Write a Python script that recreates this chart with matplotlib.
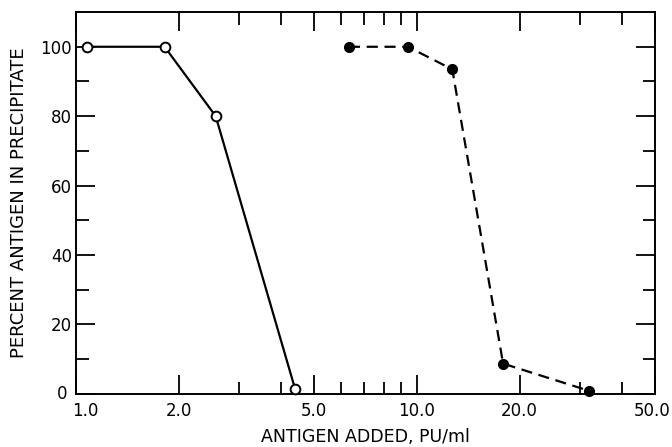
import numpy as np
import matplotlib
matplotlib.use("Agg")
import matplotlib.pyplot as plt
import matplotlib.transforms as mtransforms
from matplotlib.ticker import FixedLocator, FixedFormatter, NullFormatter

# open circles (solid line)
open_x = [1.08, 1.82, 2.57, 4.39]
open_y = [100, 100, 80, 1.5]

# filled circles (dashed line)
filled_x = [6.32, 9.41, 12.7, 17.9, 31.9]
filled_y = [100, 100, 93.5, 8.7, 0.9]

x_major = [1.0, 2.0, 5.0, 10.0, 20.0, 50.0]
x_major_labels = ["1.0", "2.0", "5.0", "10.0", "20.0", "50.0"]
x_minor = [3, 4, 6, 7, 8, 9, 30, 40]
y_major = [0, 20, 40, 60, 80, 100]
y_minor = [10, 30, 50, 70, 90]

plt.rcParams['font.family'] = ['DejaVu Sans']

fig = plt.figure(figsize=(6.72, 4.47), dpi=100)
ax = fig.add_axes([0.113, 0.119, 0.862, 0.854])

ax.plot(open_x, open_y, color='black', linewidth=1.6, marker='o', markersize=7,
        markerfacecolor='white', markeredgecolor='black', markeredgewidth=1.4,
        clip_on=False, zorder=3)
ax.plot(filled_x, filled_y, color='black', linewidth=1.6, linestyle=(0, (5, 3)),
        marker='o', markersize=7, markerfacecolor='black', markeredgecolor='black',
        clip_on=False, zorder=3)

ax.set_xscale('log')
ax.set_xlim(1.0, 50.0)
ax.set_ylim(0, 110)

ax.xaxis.set_major_locator(FixedLocator(x_major))
ax.xaxis.set_major_formatter(FixedFormatter(x_major_labels))
ax.xaxis.set_minor_locator(FixedLocator(x_minor))
ax.xaxis.set_minor_formatter(NullFormatter())
ax.yaxis.set_major_locator(FixedLocator(y_major))
ax.yaxis.set_minor_locator(FixedLocator(y_minor))

ax.tick_params(which='both', direction='in', top=True, right=True,
               width=1.3, labelsize=12, colors='black')
ax.tick_params(which='major', length=14)
ax.tick_params(which='minor', length=9)
ax.tick_params(axis='y', which='major', pad=3)
ax.tick_params(axis='x', which='major', pad=6)

for s in ax.spines.values():
    s.set_linewidth(1.4)

ax.set_xlabel("ANTIGEN ADDED, PU/ml", fontsize=12.5, labelpad=6)
ax.set_ylabel("PERCENT ANTIGEN IN PRECIPITATE", fontsize=13, labelpad=9)

# nudge end labels like the original lettering
xt = ax.xaxis.get_major_ticks()
xt[0].label1.set_transform(xt[0].label1.get_transform() +
                           mtransforms.ScaledTranslation(9 / 100, 0, fig.dpi_scale_trans))
xt[-1].label1.set_transform(xt[-1].label1.get_transform() +
                            mtransforms.ScaledTranslation(-3 / 100, 0, fig.dpi_scale_trans))
yt = ax.yaxis.get_major_ticks()
yt[0].label1.set_transform(yt[0].label1.get_transform() +
                           mtransforms.ScaledTranslation(-4 / 100, 2 / 100, fig.dpi_scale_trans))

fig.savefig("out.png", dpi=100)
